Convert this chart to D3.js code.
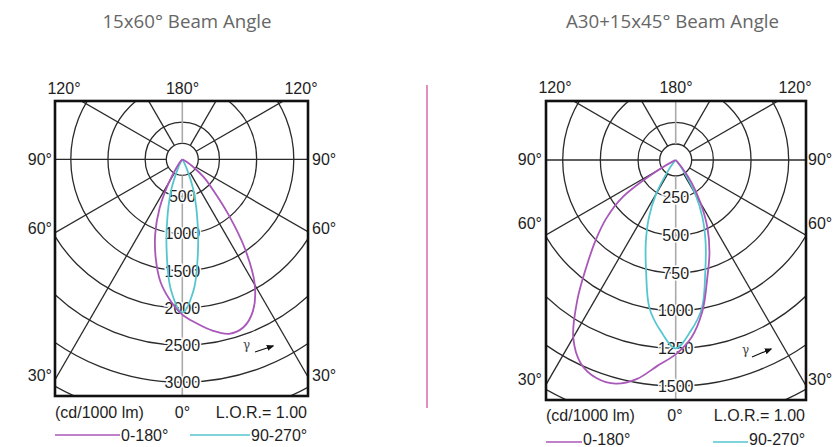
<!DOCTYPE html>
<html><head><meta charset="utf-8">
<script src="https://cdn.jsdelivr.net/npm/d3@7"></script>
<style>
html,body{margin:0;padding:0;background:#fff;}
svg{display:block;}
</style></head><body>
<svg id="chart" width="833" height="447"></svg>
<script>
// ---------------- DATA ----------------
const gammaAngles = [0,5,10,15,20,25,30,35,40,45,50,55,60,65,70,75,80,85,90];
const chartTitles = ["15x60° Beam Angle", "A30+15x45° Beam Angle"];
const ringTicksA = [500,1000,1500,2000,2500,3000];
const ringTicksB = [250,500,750,1000,1250,1500];
const topAngleLabels = ["120°","180°","120°"];
const sideAngleLabels = ["90°","60°","30°"];
const bottomAngleLabel = "0°";
const unitLabel = "(cd/1000 lm)";
const lorLabel = "L.O.R.= 1.00";
const legendLabels = ["0-180°","90-270°"];
// Chart A (15x60°) — intensity (cd/1000 lm) per gamma angle
const chartA_C0   = [2090,2215,2340,2430,2405,2250,1950,1470,955,585,380,180,60,0,0,0,0,0,0];
const chartA_C180 = [2090,1900,1680,1380,1065,720,365,130,40,0,0,0,0,0,0,0,0,0,0];
const chartA_C90  = [2060,1760,1220,760,430,150,40,0,0,0,0,0,0,0,0,0,0,0,0];
const chartA_C270 = [2060,1760,1220,760,430,150,40,0,0,0,0,0,0,0,0,0,0,0,0];
// Chart B (A30+15x45°)
const chartB_C0   = [1290,1185,1020,810,655,500,330,185,60,0,0,0,0,0,0,0,0,0,0];
const chartB_C180 = [1290,1370,1475,1537,1540,1490,1360,1140,920,750,600,430,130,10,0,0,0,0,0];
const chartB_C90  = [1250,1140,1000,760,580,420,260,90,20,0,0,0,0,0,0,0,0,0,0];
const chartB_C270 = [1250,1140,1000,760,580,420,260,90,20,0,0,0,0,0,0,0,0,0,0];

// ---------------- STYLE / LAYOUT ----------------
const MAGENTA = "#a957b9";
const CYAN = "#55c6cf";
const GRID = "#2a2a2a";
const TXT = "#1e1e1e";
const FONT = "'Liberation Sans', Arial, sans-serif";

const layouts = [
  {id:"A", cx:182.3, cy:159.3, x0:55, x1:308, y0:101, y1:396, maxVal:3000, maxR:223, step:500, ticks:ringTicksA,
   titleX:187, topY:94, topX:[64,182.5,301], sideL:52, sideR:312, sideY:[165,234,381],
   botY:418, botMid:182.5, legY:435, legTxtY:441, magLine:[55,120], cyanLine:[190,250],
   gamma:[243,349], arrow:[[255,352],[273,346]],
   c0:chartA_C0, c180:chartA_C180, c90:chartA_C90, c270:chartA_C270},
  {id:"B", cx:675.7, cy:160, x0:546, x1:806, y0:101, y1:400, maxVal:1500, maxR:226, step:250, ticks:ringTicksB,
   titleX:672.5, topY:93, topX:[555,676,795], sideL:542, sideR:808, sideY:[165,229,385],
   botY:421, botMid:675, legY:442, legTxtY:445, magLine:[546,582], cyanLine:[713,748],
   gamma:[742,354], arrow:[[752,357],[771,349]],
   c0:chartB_C0, c180:chartB_C180, c90:chartB_C90, c270:chartB_C270}
];

const svg = d3.select("#chart");
const defs = svg.append("defs");
defs.append("marker").attr("id","arrowhead").attr("viewBox","0 0 10 10")
  .attr("refX",8).attr("refY",5).attr("markerWidth",7).attr("markerHeight",7)
  .attr("orient","auto").append("path").attr("d","M0,1 L10,5 L0,9 Z").attr("fill","#111");

// separator
svg.append("line").attr("x1",427).attr("x2",427).attr("y1",85).attr("y2",408)
  .attr("stroke","#d774b1").attr("stroke-width",1.6);

layouts.forEach((L, idx) => {
  const g = svg.append("g");
  const r = d3.scaleLinear().domain([0, L.maxVal]).range([0, L.maxR]);
  const innerR = 16;
  const pt = (deg, rad) => [L.cx + rad*Math.sin(deg*Math.PI/180), L.cy + rad*Math.cos(deg*Math.PI/180)];

  // title
  svg.append("text").attr("x", L.titleX).attr("y", 28).attr("text-anchor","middle")
    .attr("font-family","'Open Sans', sans-serif").attr("font-size",18.7).attr("fill","#666")
    .text(chartTitles[idx]);

  const clipId = "clip"+L.id;
  defs.append("clipPath").attr("id",clipId).append("rect")
    .attr("x",L.x0).attr("y",L.y0).attr("width",L.x1-L.x0).attr("height",L.y1-L.y0);
  const grid = g.append("g").attr("clip-path",`url(#${clipId})`);

  // rings
  const ringVals = d3.range(L.step, L.step*9, L.step);
  grid.selectAll("circle.ring").data(ringVals).join("circle")
    .attr("cx",L.cx).attr("cy",L.cy).attr("r",d=>r(d))
    .attr("fill","none").attr("stroke",GRID).attr("stroke-width",1.3);
  grid.append("circle").attr("cx",L.cx).attr("cy",L.cy).attr("r",innerR)
    .attr("fill","none").attr("stroke",GRID).attr("stroke-width",1.3);

  // radial lines
  const radAngles = d3.range(-150, 181, 30);
  grid.selectAll("line.rad").data(radAngles).join("line")
    .attr("x1",d=>pt(d,innerR)[0]).attr("y1",d=>pt(d,innerR)[1])
    .attr("x2",d=>pt(d,700)[0]).attr("y2",d=>pt(d,700)[1])
    .attr("stroke",d=> (d===0||d===180) ? "#aaa" : GRID)
    .attr("stroke-width",d=> (d===0||d===180) ? 1.6 : 1.3);

  // ring labels
  g.selectAll("text.tick").data(L.ticks).join("text")
    .attr("x",L.cx).attr("y",d=>L.cy + r(d)).attr("dy","0.36em")
    .attr("text-anchor","middle").attr("font-family",FONT).attr("font-size",16).attr("fill",TXT)
    .attr("stroke","#fff").attr("stroke-width",3).attr("paint-order","stroke")
    .text(d=>d);

  // curves
  const buildPts = (right, left) => {
    const trim = arr => { const k = arr.indexOf(0); return k<0 ? arr.length : k+1; };
    const nl = trim(left), nr = trim(right);
    const pts = [];
    for (let i = nl-1; i >= 1; i--) pts.push(pt(-gammaAngles[i], r(left[i])));
    for (let i = 0; i < nr; i++) pts.push(pt(gammaAngles[i], r(right[i])));
    return pts;
  };
  const line = d3.line().curve(d3.curveCatmullRom.alpha(0.5));
  g.append("path").attr("d", line(buildPts(L.c90, L.c270)))
    .attr("fill","none").attr("stroke",CYAN).attr("stroke-width",1.8);
  g.append("path").attr("d", line(buildPts(L.c0, L.c180)))
    .attr("fill","none").attr("stroke",MAGENTA).attr("stroke-width",1.8);

  // box
  g.append("rect").attr("x",L.x0).attr("y",L.y0).attr("width",L.x1-L.x0).attr("height",L.y1-L.y0)
    .attr("fill","none").attr("stroke","#111").attr("stroke-width",2.6);

  const txt = (x,y,s,anchor) => g.append("text").attr("x",x).attr("y",y).attr("text-anchor",anchor||"middle")
      .attr("font-family",FONT).attr("font-size",16).attr("fill",TXT).text(s);
  // angle labels
  topAngleLabels.forEach((s,i)=>txt(L.topX[i], L.topY, s));
  sideAngleLabels.forEach((s,i)=>{ txt(L.sideL, L.sideY[i], s, "end"); txt(L.sideR, L.sideY[i], s, "start"); });
  txt(L.botMid, L.botY, bottomAngleLabel);
  txt(L.x0, L.botY, unitLabel, "start");
  txt(L.x1-1, L.botY, lorLabel, "end");

  // legend
  g.append("line").attr("x1",L.magLine[0]).attr("x2",L.magLine[1]).attr("y1",L.legY).attr("y2",L.legY)
    .attr("stroke",MAGENTA).attr("stroke-width",1.6);
  txt(L.magLine[1]+1, L.legTxtY, legendLabels[0], "start");
  g.append("line").attr("x1",L.cyanLine[0]).attr("x2",L.cyanLine[1]).attr("y1",L.legY).attr("y2",L.legY)
    .attr("stroke",CYAN).attr("stroke-width",1.6);
  txt(L.cyanLine[1]+1, L.legTxtY, legendLabels[1], "start");

  // gamma arrow
  g.append("text").attr("x",L.gamma[0]).attr("y",L.gamma[1]).attr("font-family","'DejaVu Serif', serif")
    .attr("font-size",12).attr("fill","#444").text("γ");
  g.append("line").attr("x1",L.arrow[0][0]).attr("y1",L.arrow[0][1]).attr("x2",L.arrow[1][0]).attr("y2",L.arrow[1][1])
    .attr("stroke","#111").attr("stroke-width",1.1).attr("marker-end","url(#arrowhead)");
});
</script>
</body></html>
